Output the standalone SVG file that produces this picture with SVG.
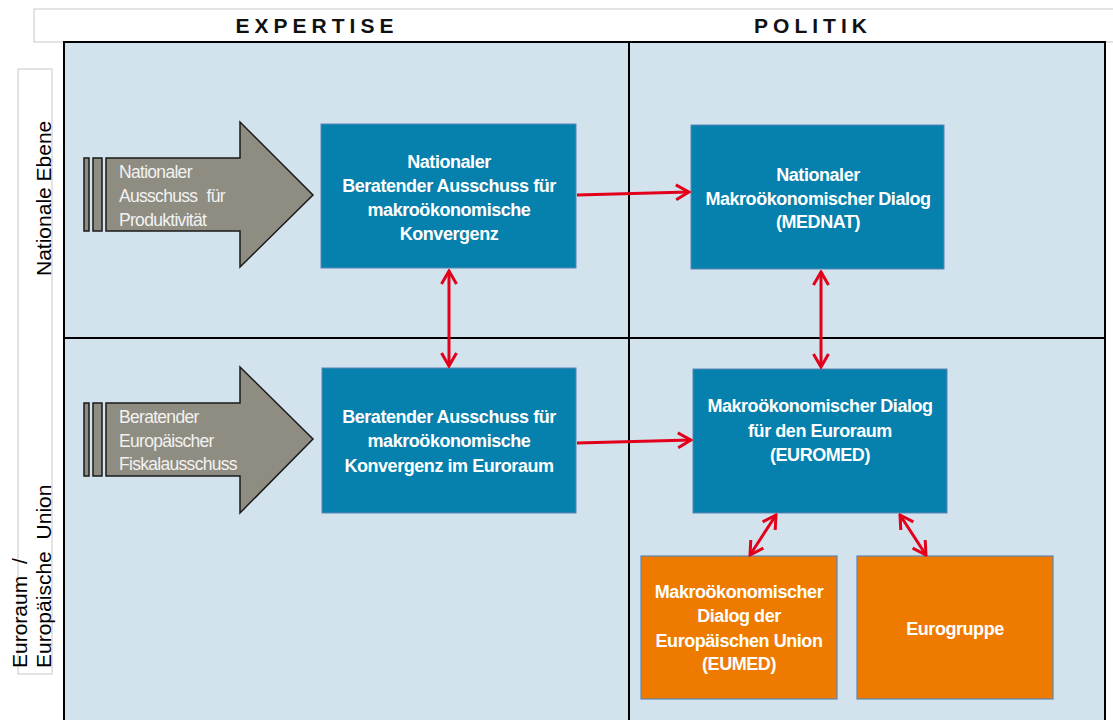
<svg xmlns="http://www.w3.org/2000/svg" width="1113" height="720" viewBox="0 0 1113 720">
<style>
.hdr{font-family:"Liberation Sans",Arial,sans-serif;font-size:21px;font-weight:bold;fill:#111;letter-spacing:5px;text-anchor:middle}
.side{font-family:"Liberation Sans",Arial,sans-serif;font-size:21px;fill:#000}
.box{fill:#0680ad;stroke:#5a86b5;stroke-width:1}
.obox{fill:#ee7b00;stroke:#5a86b5;stroke-width:1.2}
.bt{font-family:"Liberation Sans",Arial,sans-serif;font-size:18px;font-weight:bold;fill:#fff;letter-spacing:-0.45px;text-anchor:middle}
.arr{fill:#8f8d81;stroke:#1a1a1a;stroke-width:1.5}
.at{font-family:"Liberation Sans",Arial,sans-serif;font-size:17.5px;fill:#f2f2f2;letter-spacing:-0.7px}
.con{stroke:#e2001a;stroke-width:3;fill:none}
.grid{stroke:#000;stroke-width:2;fill:none}
</style>
<defs>
<marker id="h" markerUnits="userSpaceOnUse" viewBox="-16 -10 18 20" refX="0" refY="0" markerWidth="18" markerHeight="20" orient="auto-start-reverse">
<path d="M-13,-7.5 L0,0 L-13,7.5" fill="none" stroke="#e2001a" stroke-width="3"/>
</marker>
</defs>
<rect width="1113" height="720" fill="#fff"/>
<g id="header">
<rect x="34" y="9" width="1090" height="33" fill="#fff" stroke="#c8c8c8" stroke-width="1"/>
<text class="hdr" x="317" y="33">EXPERTISE</text>
<text class="hdr" x="813" y="33">POLITIK</text>
</g>
<g id="side-labels">
<rect x="18" y="69" width="34" height="605" fill="#fff" stroke="#c8c8c8" stroke-width="1"/>
<text class="side" transform="translate(51,276) rotate(-90)">Nationale Ebene</text>
<text class="side" transform="translate(27,668) rotate(-90)" word-spacing="6">Euroraum /</text>
<text class="side" transform="translate(51,668) rotate(-90)" word-spacing="6">Europäische Union</text>
</g>
<g id="grid">
<rect x="64" y="42" width="1041" height="700" fill="#d3e3ee"/>
<rect x="64" y="42" width="1041" height="700" class="grid"/>
<line x1="629" y1="42" x2="629" y2="720" class="grid"/>
<line x1="64" y1="338" x2="1105" y2="338" class="grid"/>
</g>
<g id="arrow-produktivitaet">
<rect x="84" y="158" width="5" height="73" class="arr"/>
<rect x="93" y="158" width="9" height="73" class="arr"/>
<polygon points="106,158 240,158 240,122 313,195 240,267 240,231 106,231" class="arr"/>
<text class="at" x="119" y="178">Nationaler</text>
<text class="at" x="119" y="202" word-spacing="5">Ausschuss für</text>
<text class="at" x="119" y="226">Produktivität</text>
</g>
<g id="arrow-fiskal">
<rect x="84" y="403" width="5" height="73" class="arr"/>
<rect x="93" y="403" width="9" height="73" class="arr"/>
<polygon points="106,403 240,403 240,367 313,439 240,513 240,476 106,476" class="arr"/>
<text class="at" x="119" y="423">Beratender</text>
<text class="at" x="119" y="447">Europäischer</text>
<text class="at" x="119" y="470">Fiskalausschuss</text>
</g>
<g id="nat-beratend">
<rect x="321" y="124" width="255" height="144" class="box"/>
<text class="bt" x="449" y="168">Nationaler</text>
<text class="bt" x="449" y="192">Beratender Ausschuss für</text>
<text class="bt" x="449" y="216">makroökonomische</text>
<text class="bt" x="449" y="240">Konvergenz</text>
</g>
<g id="mednat">
<rect x="691" y="125" width="253" height="144" class="box"/>
<text class="bt" x="818" y="181">Nationaler</text>
<text class="bt" x="818" y="205">Makroökonomischer Dialog</text>
<text class="bt" x="818" y="228">(MEDNAT)</text>
</g>
<g id="eu-beratend">
<rect x="322" y="368" width="254" height="145" class="box"/>
<text class="bt" x="449" y="423">Beratender Ausschuss für</text>
<text class="bt" x="449" y="447">makroökonomische</text>
<text class="bt" x="449" y="472">Konvergenz im Euroraum</text>
</g>
<g id="euromed">
<rect x="693" y="369" width="254" height="144" class="box"/>
<text class="bt" x="820" y="412">Makroökonomischer Dialog</text>
<text class="bt" x="820" y="437">für den Euroraum</text>
<text class="bt" x="820" y="461">(EUROMED)</text>
</g>
<g id="eumed">
<rect x="641" y="556" width="196" height="143" class="obox"/>
<text class="bt" x="739" y="598">Makroökonomischer</text>
<text class="bt" x="739" y="622">Dialog der</text>
<text class="bt" x="739" y="647">Europäischen Union</text>
<text class="bt" x="739" y="670">(EUMED)</text>
</g>
<g id="eurogruppe">
<rect x="857" y="556" width="196" height="143" class="obox"/>
<text class="bt" x="955" y="635">Eurogruppe</text>
</g>
<g id="connectors">
<line x1="577" y1="195" x2="689" y2="192" class="con" marker-end="url(#h)"/>
<line x1="577" y1="443" x2="691" y2="440" class="con" marker-end="url(#h)"/>
<line x1="449" y1="271" x2="449" y2="366" class="con" marker-start="url(#h)" marker-end="url(#h)"/>
<line x1="821" y1="272" x2="821" y2="367" class="con" marker-start="url(#h)" marker-end="url(#h)"/>
<line x1="776" y1="515" x2="750" y2="555" class="con" marker-start="url(#h)" marker-end="url(#h)"/>
<line x1="900" y1="515" x2="926" y2="555" class="con" marker-start="url(#h)" marker-end="url(#h)"/>
</g>
</svg>
